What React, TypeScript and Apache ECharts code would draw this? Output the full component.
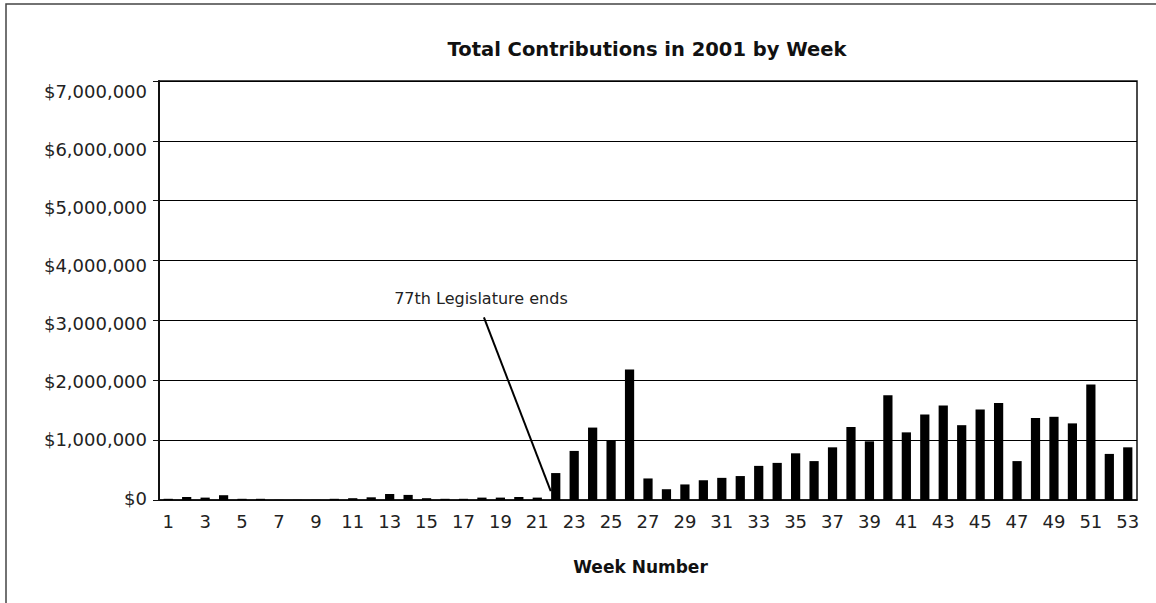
import React, { useEffect, useRef } from "react";
import * as echarts from "echarts";

const weeks: string[] = [
  "1","2","3","4","5","6","7","8","9","10","11","12","13","14","15","16","17","18",
  "19","20","21","22","23","24","25","26","27","28","29","30","31","32","33","34","35",
  "36","37","38","39","40","41","42","43","44","45","46","47","48","49","50","51","52","53",
];

const contributions: number[] = [
  20000, 50000, 40000, 80000, 20000, 20000, 2000, 2000, 2000, 20000,
  30000, 45000, 100000, 85000, 30000, 20000, 20000, 40000, 40000, 50000,
  40000, 450000, 820000, 1210000, 990000, 2180000, 360000, 180000, 260000, 330000,
  370000, 400000, 570000, 620000, 780000, 650000, 880000, 1220000, 980000, 1750000,
  1130000, 1430000, 1580000, 1250000, 1510000, 1620000, 650000, 1370000, 1390000, 1280000,
  1930000, 770000, 880000,
];

const yMax = 7000000;
const yStep = 1000000;

const titleText = "Total Contributions in 2001 by Week";
const xAxisTitle = "Week Number";
const annotationText = "77th Legislature ends";
const annotationFrom: [string, number] = ["18", 3050000];
const annotationTo: [string, number] = ["22", 150000];

const FONT = "DejaVu Sans";

export default function App() {
  const ref = useRef<HTMLDivElement>(null);

  useEffect(() => {
    if (!ref.current) return;
    const chart = echarts.init(ref.current, undefined, { renderer: "svg" });
    chart.setOption({
      animation: false,
      textStyle: { fontFamily: FONT },
      title: {
        text: titleText,
        left: 647,
        top: 39,
        textAlign: "center",
        padding: 0,
        textStyle: { fontFamily: FONT, fontWeight: "bold", fontSize: 19.5, color: "#111" },
      },
      grid: [
        { left: 159, top: 81, right: 19, bottom: 103, show: true, borderColor: "#111", borderWidth: 1.5 },
        { left: 159, top: 91, right: 19, bottom: 105, show: false },
      ],
      xAxis: [
        {
          type: "category",
          gridIndex: 0,
          data: weeks,
          axisLine: { lineStyle: { color: "#111", width: 1.5 } },
          axisTick: { interval: 0, length: 5, lineStyle: { color: "#111" } },
          axisLabel: { interval: 1, margin: 12, fontSize: 18, color: "#222", fontFamily: FONT },
          name: xAxisTitle,
          nameLocation: "middle",
          nameGap: 58,
          nameTextStyle: { fontFamily: FONT, fontWeight: "bold", fontSize: 17, color: "#111", padding: [0, 15, 0, 0] },
        },
        { type: "category", gridIndex: 1, data: weeks, show: false },
      ],
      yAxis: [
        {
          type: "value",
          gridIndex: 0,
          min: 0,
          max: yMax,
          interval: yStep,
          axisLine: { show: true, lineStyle: { color: "#111", width: 2 } },
          axisTick: { show: true, length: 6, lineStyle: { color: "#111" } },
          axisLabel: { show: false },
          splitLine: { lineStyle: { color: "#000", width: 1 } },
        },
        {
          type: "value",
          gridIndex: 1,
          min: 0,
          max: yMax,
          interval: yStep,
          axisLine: { show: false },
          axisTick: { show: false },
          splitLine: { show: false },
          axisLabel: {
            margin: 12,
            fontSize: 18,
            color: "#222",
            fontFamily: FONT,
            formatter: (v: number) => "$" + v.toLocaleString("en-US"),
          },
        },
      ],
      series: [
        {
          type: "bar",
          xAxisIndex: 0,
          yAxisIndex: 0,
          data: contributions,
          barWidth: "50%",
          itemStyle: { color: "#000" },
        },
      ],
      graphic: [
        {
          id: "frame",
          type: "rect",
          shape: { x: 6, y: 4, width: 1300, height: 800 },
          style: { fill: "none", stroke: "#444", lineWidth: 1.5 },
          silent: true,
        },
      ],
    });

    const p1 = chart.convertToPixel({ gridIndex: 0 }, annotationFrom) as number[];
    const p2 = chart.convertToPixel({ gridIndex: 0 }, annotationTo) as number[];
    const x1 = p1[0] + 2;
    const y1 = p1[1];
    const x2 = p2[0] - 5;
    const y2 = p2[1];
    chart.setOption({
      graphic: [
        {
          id: "frame",
          type: "rect",
          shape: { x: 6, y: 4, width: 1300, height: 800 },
          style: { fill: "none", stroke: "#444", lineWidth: 1.5 },
          silent: true,
        },
        {
          id: "annLine",
          type: "line",
          shape: { x1, y1, x2, y2 },
          style: { stroke: "#000", lineWidth: 2 },
          silent: true,
        },
        {
          id: "annText",
          type: "text",
          x: x1 - 3,
          y: y1 - 19,
          style: {
            text: annotationText,
            fontFamily: FONT,
            fontSize: 16,
            fill: "#222",
            align: "center",
            verticalAlign: "middle",
          },
          silent: true,
        },
      ],
    });

    return () => chart.dispose();
  }, []);

  return (
    <div
      ref={ref}
      style={{ position: "absolute", left: 0, top: 0, width: 1156, height: 603, background: "#fff" }}
    />
  );
}
